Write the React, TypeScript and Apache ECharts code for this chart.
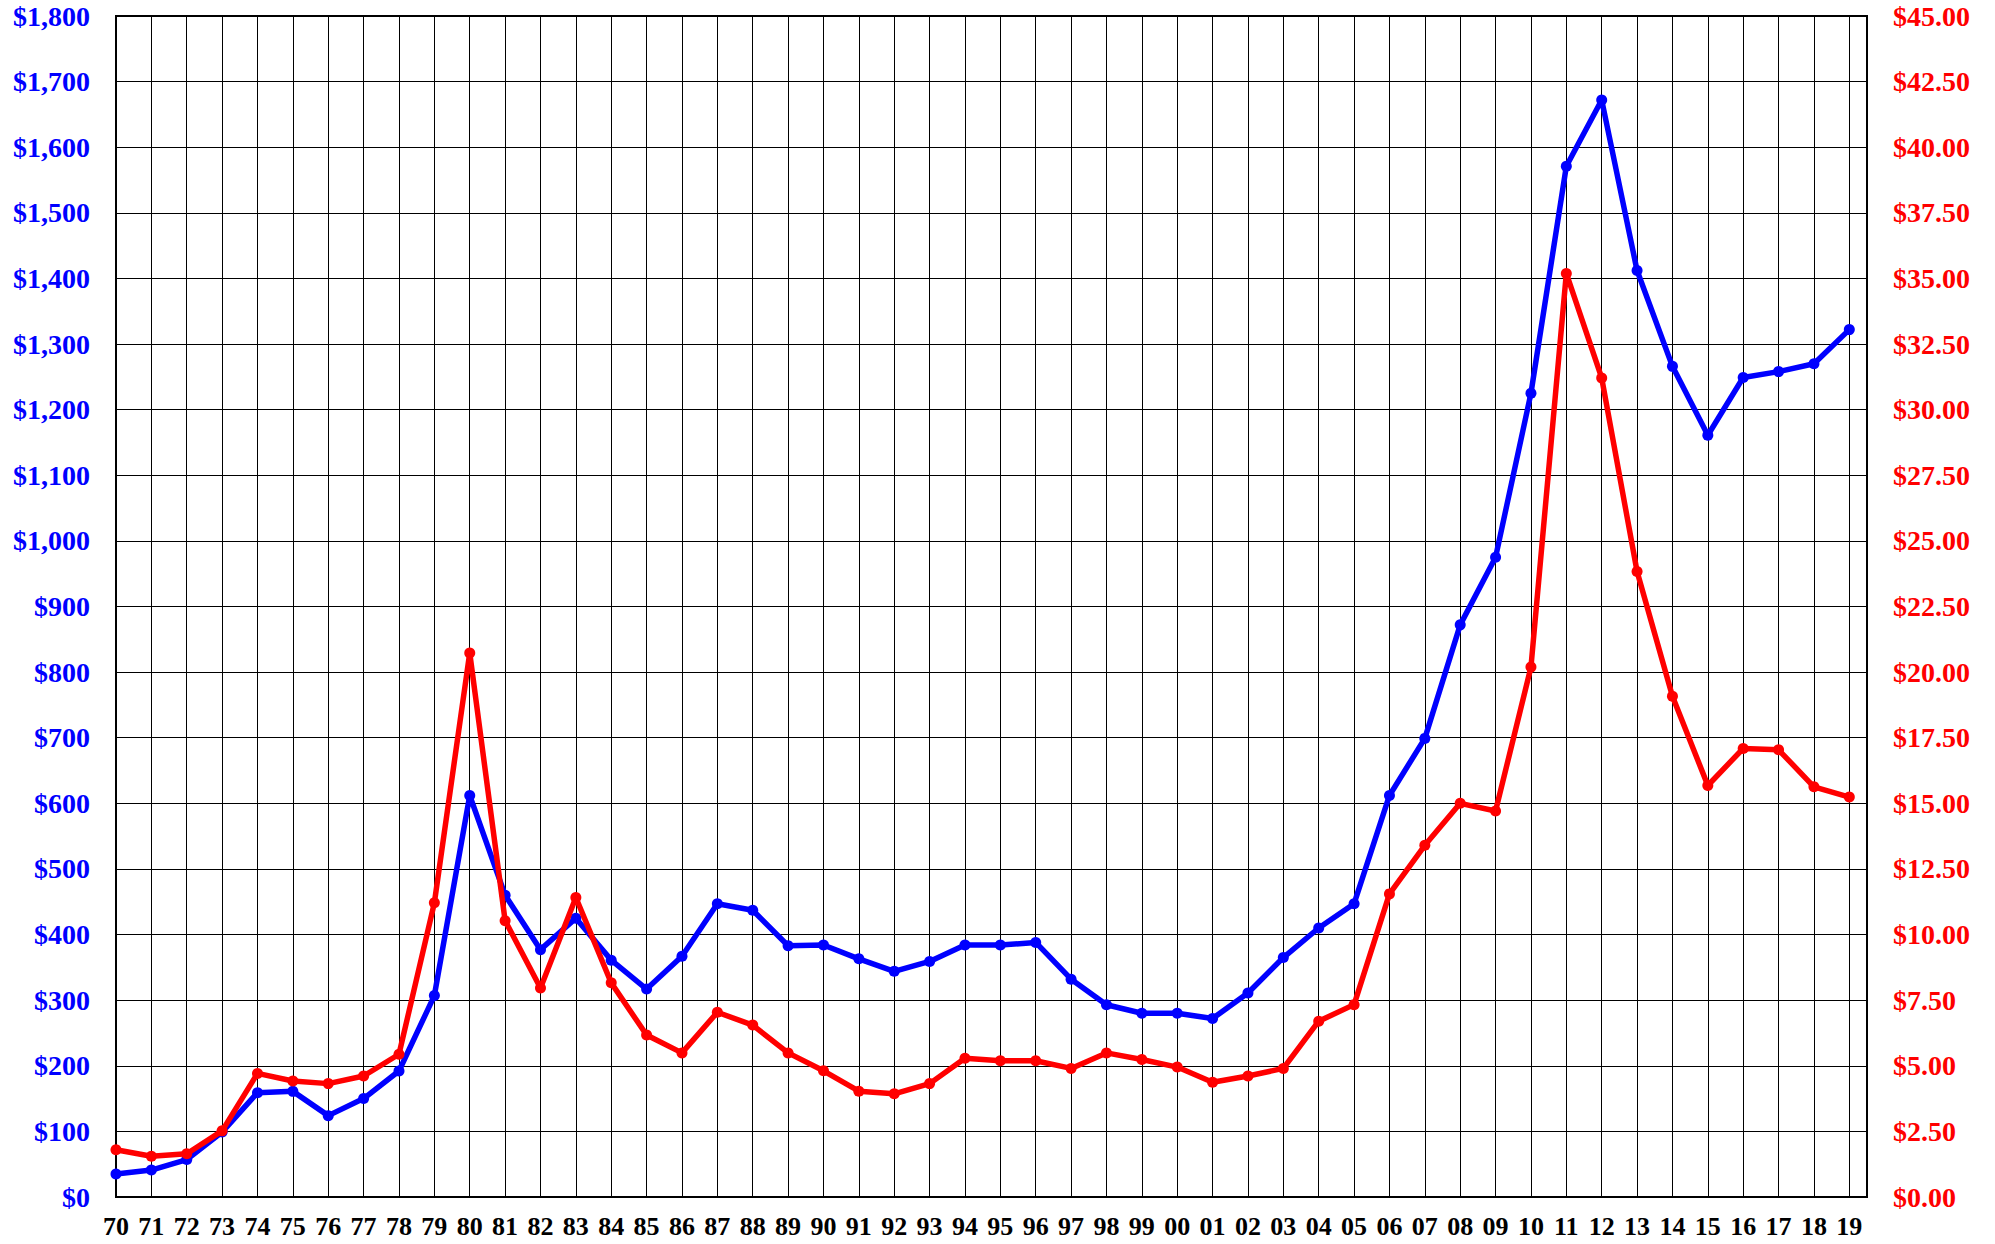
import React, { useEffect, useRef } from "react";
import * as echarts from "echarts";

const yearLabels = [
  "70","71","72","73","74","75","76","77","78","79",
  "80","81","82","83","84","85","86","87","88","89",
  "90","91","92","93","94","95","96","97","98","99",
  "00","01","02","03","04","05","06","07","08","09",
  "10","11","12","13","14","15","16","17","18","19",
];

const goldPrices = [
  35, 41, 57, 99, 159, 161, 124, 150, 192, 307,
  612, 460, 377, 425, 361, 317, 367, 447, 437, 383,
  384, 363, 344, 359, 384, 384, 388, 332, 293, 280,
  280, 272, 311, 365, 410, 447, 612, 699, 872, 975,
  1225, 1571, 1672, 1412, 1266, 1161, 1249, 1258, 1270, 1322,
];

const silverPrices = [
  1.8, 1.55, 1.65, 2.52, 4.71, 4.42, 4.32, 4.61, 5.44, 11.21,
  20.73, 10.53, 7.96, 11.41, 8.16, 6.17, 5.49, 7.04, 6.55, 5.49,
  4.81, 4.03, 3.93, 4.32, 5.29, 5.19, 5.19, 4.9, 5.49, 5.24,
  4.95, 4.37, 4.61, 4.9, 6.7, 7.33, 11.55, 13.4, 15.0, 14.71,
  20.19, 35.19, 31.21, 23.83, 19.08, 15.68, 17.09, 17.04, 15.63, 15.24,
];

const FONT = "Liberation Serif";

export default function App() {
  const ref = useRef<HTMLDivElement>(null);
  useEffect(() => {
    document.body.style.margin = "0";
    const chart = echarts.init(ref.current!, null, { renderer: "svg" });
    chart.setOption({
      animation: false,
      backgroundColor: "#fff",
      grid: {
        left: 116,
        right: 128,
        top: 16,
        bottom: 47,
        show: true,
        borderColor: "#000",
        borderWidth: 2,
      },
      xAxis: {
        type: "value",
        min: 0,
        max: yearLabels.length - 0.5,
        interval: 1,
        axisLine: { show: true, lineStyle: { color: "#000", width: 2 } },
        axisTick: { show: false },
        splitLine: { show: true, lineStyle: { color: "#000", width: 1 } },
        axisLabel: {
          margin: 16,
          color: "#000",
          fontFamily: FONT,
          fontWeight: "bold",
          fontSize: 26,
          formatter: (v: number) =>
            Number.isInteger(v) && v < yearLabels.length ? yearLabels[v] : "",
        },
      },
      yAxis: [
        {
          type: "value",
          min: 0,
          max: 1800,
          interval: 100,
          position: "left",
          axisLine: { show: true, lineStyle: { color: "#000", width: 2 } },
          axisTick: { show: false },
          splitLine: { show: true, lineStyle: { color: "#000", width: 1 } },
          axisLabel: {
            margin: 26,
            color: "#0000ff",
            fontFamily: FONT,
            fontWeight: "bold",
            fontSize: 28,
            formatter: (v: number) => "$" + v.toLocaleString("en-US"),
          },
        },
        {
          type: "value",
          min: 0,
          max: 45,
          interval: 2.5,
          position: "right",
          axisLine: { show: true, lineStyle: { color: "#000", width: 2 } },
          axisTick: { show: false },
          splitLine: { show: false },
          axisLabel: {
            margin: 26,
            color: "#ff0000",
            fontFamily: FONT,
            fontWeight: "bold",
            fontSize: 28,
            formatter: (v: number) => "$" + v.toFixed(2),
          },
        },
      ],
      series: [
        {
          name: "Gold",
          type: "line",
          yAxisIndex: 0,
          data: goldPrices.map((v, i) => [i, v]),
          symbol: "circle",
          symbolSize: 11,
          lineStyle: { color: "#0000ff", width: 5.5 },
          itemStyle: { color: "#0000ff" },
          z: 3,
        },
        {
          name: "Silver",
          type: "line",
          yAxisIndex: 1,
          data: silverPrices.map((v, i) => [i, v]),
          symbol: "circle",
          symbolSize: 11,
          lineStyle: { color: "#ff0000", width: 5.5 },
          itemStyle: { color: "#ff0000" },
          z: 4,
        },
      ],
    });
    return () => chart.dispose();
  }, []);
  return <div ref={ref} style={{ width: 1995, height: 1244 }} />;
}
